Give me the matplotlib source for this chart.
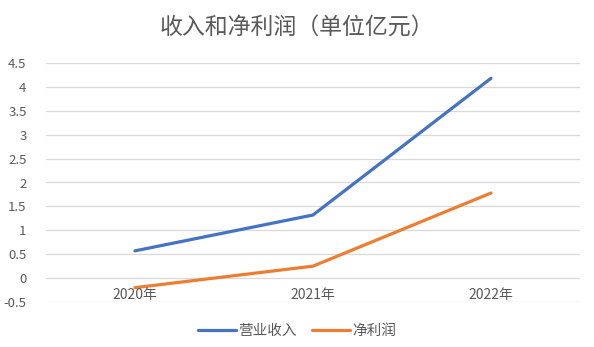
import matplotlib.pyplot as plt

plt.rcParams['font.family'] = ['Noto Sans CJK SC', 'DejaVu Sans']

years = ['2020年', '2021年', '2022年']
revenue = [0.57, 1.32, 4.18]
net_profit = [-0.20, 0.25, 1.78]
y_ticks = [-0.5, 0, 0.5, 1, 1.5, 2, 2.5, 3, 3.5, 4, 4.5]
y_labels = ['-0.5', '0', '0.5', '1', '1.5', '2', '2.5', '3', '3.5', '4', '4.5']

fig = plt.figure(figsize=(5.94, 3.47), dpi=100)
ax = fig.add_axes([46 / 594, 1 - 302 / 347, 534 / 594, 239 / 347])

x = [0.5, 1.5, 2.5]
ax.plot(x, revenue, color='#4472C4', lw=2.3, label='营业收入', solid_capstyle='round')
ax.plot(x, net_profit, color='#ED7D31', lw=2.3, label='净利润', solid_capstyle='round')

ax.set_xlim(0, 3)
ax.set_ylim(-0.5, 4.5)
ax.set_yticks(y_ticks)
ax.set_yticklabels(y_labels)
ax.set_xticks([])
ax.grid(axis='y', color='#D9D9D9', lw=0.9)
ax.set_axisbelow(True)
for s in ax.spines.values():
    s.set_visible(False)
ax.tick_params(axis='y', length=0, pad=14, labelsize=9.5, labelcolor='#595959')

# category labels sit just under the zero line, like Excel
for xi, lab in zip(x, years):
    ax.text(xi, -0.2, lab, ha='center', va='top', fontsize=10, color='#595959', zorder=5)

fig.text(0.5, 1 - 27 / 347, '收入和净利润（单位亿元）', ha='center', va='center',
         fontsize=16.5, color='#595959')

fig.legend(loc='center', bbox_to_anchor=(0.5, 1 - 331 / 347), ncol=2, frameon=False,
           fontsize=10.5, labelcolor='#595959', handlelength=2.6, handletextpad=0.2,
           columnspacing=1.0)

fig.savefig('out.png', dpi=100)
